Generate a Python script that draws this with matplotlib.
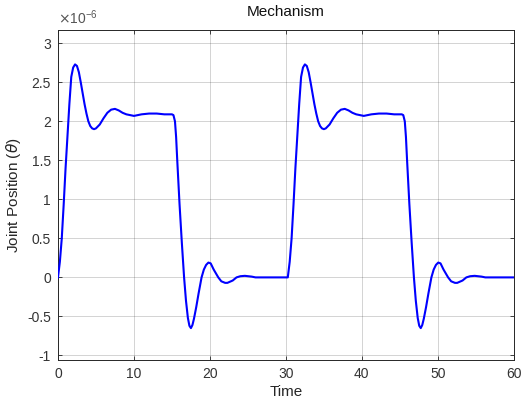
import matplotlib
matplotlib.use('Agg')
import matplotlib.pyplot as plt

# first period (values in units of 1e-6)
t1 = [0.0, 0.25, 0.5, 0.75, 1.0, 1.25, 1.5, 1.75, 2.0, 2.25, 2.5, 2.75, 3.0, 3.25,
      3.5, 3.75, 4.0, 4.25, 4.5, 4.75, 5.0, 5.5, 6.0, 6.5, 7.0, 7.5, 8.0, 8.5, 9.0,
      9.5, 10.0, 10.5, 11.0, 12.0, 13.0, 14.0, 15.0, 15.2, 15.4, 15.55, 15.7, 16.0,
      16.3, 16.6, 16.85, 17.1, 17.3, 17.5, 17.7, 17.9, 18.2, 18.5, 18.9, 19.2, 19.5,
      19.8, 20.1, 20.5, 21.1, 21.5, 22.0, 22.3, 23.0, 23.5, 24.0, 24.6, 25.5, 26.0,
      27.0, 28.0, 29.0, 30.0]
v1 = [0.00, 0.20, 0.50, 0.93, 1.40, 1.82, 2.22, 2.57, 2.69, 2.73, 2.71, 2.63, 2.50, 2.36,
      2.22, 2.10, 2.00, 1.94, 1.91, 1.90, 1.91, 1.96, 2.04, 2.11, 2.15, 2.16, 2.14, 2.11, 2.09,
      2.08, 2.07, 2.08, 2.09, 2.10, 2.10, 2.09, 2.09, 2.08, 2.00, 1.80, 1.50, 0.94,
      0.45, 0.00, -0.30, -0.52, -0.62, -0.65, -0.61, -0.53, -0.38, -0.21, 0.00, 0.10, 0.16,
      0.19, 0.18, 0.10, 0.00, -0.05, -0.07, -0.07, -0.04, 0.00, 0.015, 0.02, 0.01, 0.00,
      0.00, 0.00, 0.00, 0.00]

# second period
t2 = [30.25, 30.5, 30.75, 31.0, 31.25, 31.5, 31.75, 32.0, 32.25, 32.5, 32.75, 33.0, 33.25,
      33.5, 33.75, 34.0, 34.25, 34.5, 34.75, 35.0, 35.25, 35.75, 36.25, 36.75, 37.25, 37.75,
      38.25, 38.75, 39.25, 39.75, 40.25, 40.75, 41.25, 42.25, 43.25, 44.25, 45.25, 45.45,
      45.65, 45.8, 45.95, 46.25, 46.55, 46.85, 47.1, 47.35, 47.55, 47.75, 47.95, 48.15, 48.45,
      48.75, 49.15, 49.45, 49.75, 50.05, 50.35, 50.75, 51.35, 51.75, 52.25, 52.55, 53.25,
      53.75, 54.25, 54.85, 55.75, 56.25, 57.25, 58.25, 59.25, 60.0]
v2 = [0.00, 0.20, 0.50, 0.93, 1.40, 1.82, 2.22, 2.57, 2.69, 2.73, 2.71, 2.63, 2.50,
      2.36, 2.22, 2.10, 2.00, 1.94, 1.91, 1.90, 1.91, 1.96, 2.04, 2.11, 2.15, 2.16,
      2.14, 2.11, 2.09, 2.08, 2.07, 2.08, 2.09, 2.10, 2.10, 2.09, 2.09, 2.08,
      2.00, 1.80, 1.50, 0.94, 0.45, 0.00, -0.30, -0.52, -0.62, -0.65, -0.61, -0.53, -0.38,
      -0.21, 0.00, 0.10, 0.16, 0.19, 0.18, 0.10, 0.00, -0.05, -0.07, -0.07, -0.04,
      0.00, 0.015, 0.02, 0.01, 0.00, 0.00, 0.00, 0.00, 0.00]

x_ticks = [0, 10, 20, 30, 40, 50, 60]
y_ticks = [-1, -0.5, 0, 0.5, 1, 1.5, 2, 2.5, 3]
y_labels = ['-1', '-0.5', '0', '0.5', '1', '1.5', '2', '2.5', '3']

plt.rcParams['font.family'] = ['Liberation Sans', 'DejaVu Sans']
plt.rcParams['axes.unicode_minus'] = False

fig = plt.figure(figsize=(5.27, 4.01), dpi=100)
ax = fig.add_axes([0.110, 0.102, 0.865, 0.823])

t = t1 + t2
v = v1 + v2
ax.plot(t, v, color='#0000ff', lw=1.5, zorder=3)

ax.set_xlim(0, 60)
ax.set_ylim(-1.06, 3.17)
ax.set_xticks(x_ticks)
ax.set_yticks(y_ticks)
ax.set_yticklabels(y_labels)
ax.grid(True, color='#262626', alpha=0.2, lw=0.7)
ax.tick_params(direction='in', top=True, right=True, length=3, width=0.6,
               colors='#262626', labelsize=10, labelcolor='#333333', pad=5)
for s in ax.spines.values():
    s.set_color('#262626')
    s.set_linewidth(0.7)

ax.set_title('Mechanism', fontsize=11, color='#111111', pad=10)
ax.set_xlabel('Time', fontsize=11, color='#262626', labelpad=3)
ax.set_ylabel(r'Joint Position ($\theta$)', fontsize=11, color='#262626', labelpad=3)
ax.text(0.0, 1.01, r'$\times$10$^{\mathregular{-6}}$', transform=ax.transAxes,
        fontsize=10, color='#555555', ha='left', va='bottom')

fig.savefig('out.png', dpi=100)
